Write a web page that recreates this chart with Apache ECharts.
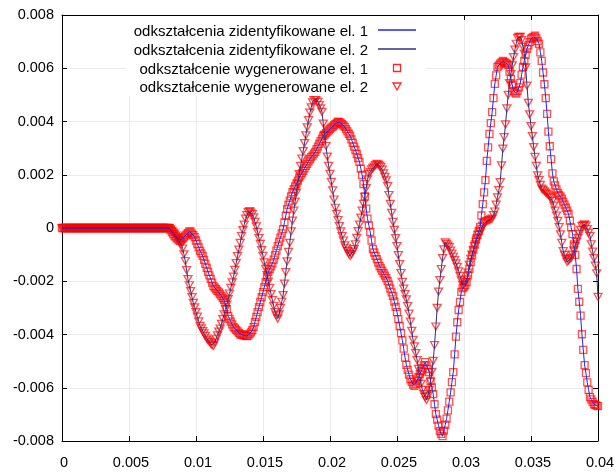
<!DOCTYPE html>
<html>
<head>
<meta charset="utf-8">
<script src="https://cdn.jsdelivr.net/npm/echarts@6/dist/echarts.min.js"></script>
<style>
html, body { margin: 0; padding: 0; background: #fff; }
#main { width: 616px; height: 472px; }
</style>
</head>
<body>
<div id="main"></div>
<script>
// sampling of the strain records: t = i * T_STEP, from 0 to 0.04
var T_STEP = 0.0001;

// strain, element 1 (in units of 1e-3)
var el1 = [
    0, 0, 0, 0, 0, 0, 0, 0, 0, 0,
    0, 0, 0, 0, 0, 0, 0, 0, 0, 0,
    0, 0, 0, 0, 0, 0, 0, 0, 0, 0,
    0, 0, 0, 0, 0, 0, 0, 0, 0, 0,
    0, 0, 0, 0, 0, 0, 0, 0, 0, 0,
    0, 0, 0, 0, 0, 0, 0, 0, 0, 0,
    0, 0, 0, 0, 0, 0, 0, 0, 0, 0,
    0, 0, 0, 0, 0, 0, 0, 0, 0, 0,
    0, -0.08, -0.15, -0.23, -0.30, -0.35, -0.40, -0.45, -0.49, -0.44,
    -0.39, -0.34, -0.29, -0.24, -0.19, -0.13, -0.14, -0.21, -0.27, -0.34,
    -0.47, -0.60, -0.73, -0.86, -0.95, -1.05, -1.20, -1.35, -1.50, -1.65,
    -1.78, -1.91, -2.05, -2.18, -2.24, -2.30, -2.36, -2.42, -2.48, -2.56,
    -2.63, -2.71, -2.78, -3.05, -3.31, -3.41, -3.52, -3.62, -3.72, -3.77,
    -3.83, -3.88, -3.94, -3.99, -4.00, -4.02, -4.03, -4.05, -4.06, -4.04,
    -3.98, -3.92, -3.84, -3.71, -3.53, -3.34, -3.16, -2.97, -2.78, -2.60,
    -2.41, -2.22, -2.03, -1.84, -1.65, -1.54, -1.44, -1.33, -1.19, -1.02,
    -0.85, -0.68, -0.52, -0.36, -0.20, -0.04, 0.21, 0.46, 0.71, 0.87,
    1.03, 1.19, 1.35, 1.46, 1.56, 1.67, 1.78, 1.89, 1.98, 2.06,
    2.15, 2.24, 2.33, 2.41, 2.50, 2.59, 2.66, 2.72, 2.79, 2.86,
    2.96, 3.06, 3.16, 3.26, 3.36, 3.46, 3.51, 3.56, 3.62, 3.67,
    3.72, 3.77, 3.81, 3.86, 3.90, 3.95, 3.99, 3.98, 3.95, 3.90,
    3.85, 3.80, 3.71, 3.63, 3.54, 3.46, 3.33, 3.20, 3.06, 2.93,
    2.78, 2.63, 2.48, 2.23, 1.99, 1.65, 1.19, 0.73, 0.35, 0.10,
    -0.15, -0.47, -0.79, -0.92, -1.05, -1.17, -1.30, -1.43, -1.52, -1.61,
    -1.70, -1.79, -1.88, -1.99, -2.13, -2.28, -2.42, -2.56, -2.76, -2.96,
    -3.16, -3.42, -3.68, -3.95, -4.22, -4.53, -4.87, -5.14, -5.33, -5.51,
    -5.68, -5.78, -5.88, -5.93, -5.84, -5.73, -5.61, -5.49, -5.38, -5.27,
    -5.15, -5.04, -5.16, -5.29, -5.41, -5.74, -5.99, -6.24, -6.62, -6.99,
    -7.20, -7.42, -7.63, -7.73, -7.82, -7.61, -7.39, -7.16, -6.85, -6.52,
    -6.17, -5.79, -5.41, -4.75, -4.08, -3.54, -3.08, -2.78, -2.40, -2.26,
    -2.21, -2.14, -2.03, -1.78, -1.53, -1.28, -1.03, -0.81, -0.62, -0.43,
    -0.26, -0.11, 0.04, 0.47, 0.90, 1.34, 1.80, 2.52, 3.03, 3.53,
    3.94, 4.35, 4.88, 5.41, 5.73, 6.05, 6.11, 6.17, 6.22, 6.28,
    6.24, 6.20, 6.17, 6.13, 5.87, 5.60, 5.38, 5.15, 5.09, 5.05,
    5.15, 5.28, 5.44, 5.76, 6.05, 6.28, 6.50, 6.73, 6.86, 6.98,
    7.11, 7.15, 7.18, 7.22, 7.12, 7.02, 6.92, 6.60, 6.28, 5.84,
    5.40, 4.88, 4.29, 3.62, 3.07, 2.59, 2.05, 1.75, 1.60, 1.45,
    1.32, 1.24, 1.19, 1.10, 0.99, 0.88, 0.76, 0.65, 0.53, 0.28,
    0.02, -0.23, -0.62, -1.01, -1.54, -2.29, -2.77, -3.29, -3.99, -4.58,
    -5.15, -5.45, -5.80, -6.08, -6.35, -6.44, -6.53, -6.62, -6.64, -6.67,
    -6.69
];

// strain, element 2 (in units of 1e-3)
var el2 = [
    0, 0, 0, 0, 0, 0, 0, 0, 0, 0,
    0, 0, 0, 0, 0, 0, 0, 0, 0, 0,
    0, 0, 0, 0, 0, 0, 0, 0, 0, 0,
    0, 0, 0, 0, 0, 0, 0, 0, 0, 0,
    0, 0, 0, 0, 0, 0, 0, 0, 0, 0,
    0, 0, 0, 0, 0, 0, 0, 0, 0, 0,
    0, 0, 0, 0, 0, 0, 0, 0, 0, 0,
    0, 0, 0, 0, 0, 0, 0, 0, 0, 0,
    0, -0.05, -0.11, -0.16, -0.21, -0.29, -0.37, -0.46, -0.54, -0.63,
    -0.77, -0.99, -1.24, -1.58, -1.92, -2.15, -2.37, -2.60, -2.81, -2.98,
    -3.16, -3.33, -3.51, -3.68, -3.77, -3.87, -3.96, -4.05, -4.15, -4.22,
    -4.28, -4.34, -4.40, -4.43, -4.30, -4.16, -4.03, -3.89, -3.78, -3.60,
    -3.42, -3.24, -3.06, -2.88, -2.67, -2.46, -2.25, -2.04, -1.83, -1.57,
    -1.32, -1.06, -0.81, -0.56, -0.30, -0.08, 0.13, 0.35, 0.48, 0.60,
    0.63, 0.58, 0.52, 0.40, 0.23, 0.06, -0.15, -0.38, -0.60, -0.83,
    -1.05, -1.29, -1.53, -1.77, -2.01, -2.25, -2.48, -2.71, -2.93, -3.16,
    -3.28, -3.40, -3.24, -3.00, -2.77, -2.52, -2.09, -1.66, -1.25, -0.90,
    -0.56, -0.13, 0.28, 0.65, 0.99, 1.33, 1.67, 2.02, 2.33, 2.61,
    2.89, 3.19, 3.48, 3.78, 4.05, 4.33, 4.53, 4.72, 4.80, 4.83,
    4.85, 4.74, 4.62, 4.49, 4.36, 3.92, 3.48, 3.08, 2.68, 2.33,
    2.03, 1.73, 1.41, 1.07, 0.76, 0.53, 0.30, 0.07, -0.13, -0.30,
    -0.47, -0.65, -0.76, -0.86, -0.96, -1.05, -0.99, -0.89, -0.79, -0.61,
    -0.37, -0.12, 0.13, 0.39, 0.65, 0.91, 1.17, 1.50, 1.83, 2.03,
    2.11, 2.20, 2.26, 2.31, 2.36, 2.41, 2.38, 2.34, 2.30, 2.19,
    2.05, 1.92, 1.79, 1.57, 1.24, 0.91, 0.57, 0.23, -0.07, -0.38,
    -0.68, -1.02, -1.36, -1.69, -2.02, -2.28, -2.48, -2.68, -2.93, -3.22,
    -3.52, -3.86, -4.20, -4.45, -4.70, -4.96, -5.29, -5.61, -5.85, -6.08,
    -6.24, -6.35, -6.46, -6.31, -6.09, -5.78, -5.40, -4.99, -4.40, -3.70,
    -3.00, -2.39, -1.96, -1.54, -1.13, -0.80, -0.54, -0.60, -0.66, -0.72,
    -0.85, -0.96, -1.08, -1.21, -1.33, -1.46, -1.63, -1.80, -1.97, -2.14,
    -2.13, -2.03, -1.93, -1.68, -1.38, -1.16, -1.00, -0.84, -0.68, -0.52,
    -0.38, -0.26, -0.15, -0.03, 0.09, 0.16, 0.21, 0.26, 0.28, 0.30,
    0.32, 0.35, 0.48, 0.62, 0.88, 1.15, 1.42, 1.72, 2.35, 2.98,
    3.41, 3.89, 4.49, 5.00, 5.44, 5.78, 6.11, 6.42, 6.70, 6.92,
    7.14, 7.18, 7.18, 7.06, 6.80, 6.55, 6.03, 5.35, 4.70, 4.27,
    3.83, 3.45, 3.04, 2.67, 2.33, 1.98, 1.80, 1.62, 1.48, 1.43,
    1.38, 1.33, 1.28, 1.23, 1.18, 1.13, 1.02, 0.84, 0.65, 0.47,
    0.27, 0.03, -0.24, -0.56, -0.87, -1.01, -1.15, -1.27, -1.22, -1.17,
    -1.12, -1.00, -0.84, -0.68, -0.52, -0.37, -0.22, -0.07, 0.07, 0.11,
    0.14, 0.09, -0.04, -0.17, -0.30, -0.61, -0.89, -1.13, -1.41, -1.70,
    -2.59
];

var seriesNames = [
    'odkształcenia zidentyfikowane el. 1',
    'odkształcenia zidentyfikowane el. 2',
    'odkształcenie wygenerowane el. 1',
    'odkształcenie wygenerowane el. 2'
];

var LINE1 = '#2323f8';
var LINE2 = '#2e2e86';
var MARK = 'rgba(255,0,0,0.85)';
var FONT = 'Liberation Sans, Arial, sans-serif';

function toPoints(arr) {
    return arr.map(function (v, i) {
        return [i * T_STEP, v / 1000];
    });
}

function fmt(v) {
    return String(+v.toFixed(4));
}

var myChart = echarts.init(document.getElementById('main'));

var frameLine = { onZero: false, lineStyle: { color: '#000', width: 1 } };
var frameTick = { inside: true, length: 5, lineStyle: { color: '#000' } };

var option = {
    animation: false,
    backgroundColor: '#fff',
    grid: { left: 62, right: 18, top: 15, bottom: 31, outerBoundsMode: 'none' },
    xAxis: [
        {
            type: 'value', min: 0, max: 0.04, interval: 0.005, position: 'bottom',
            axisLine: frameLine,
            axisTick: frameTick,
            axisLabel: { color: '#000', fontSize: 14.5, fontFamily: FONT, margin: 14, padding: [0, 0, 0, 4], formatter: fmt },
            splitLine: { show: true, lineStyle: { color: '#ebebeb', width: 1 } },
        },
        {
            type: 'value', min: 0, max: 0.04, interval: 0.005, position: 'top',
            axisLine: frameLine,
            axisTick: frameTick,
            axisLabel: { show: false },
            splitLine: { show: false },
        },
    ],
    yAxis: [
        {
            type: 'value', min: -0.008, max: 0.008, interval: 0.002, position: 'left',
            axisLine: frameLine,
            axisTick: frameTick,
            axisLabel: { color: '#000', fontSize: 14.5, fontFamily: FONT, margin: 8, padding: [6, 0, 0, 0], formatter: fmt },
            splitLine: { show: true, lineStyle: { color: '#ebebeb', width: 1 } },
        },
        {
            type: 'value', min: -0.008, max: 0.008, interval: 0.002, position: 'right',
            axisLine: frameLine,
            axisTick: frameTick,
            axisLabel: { show: false },
            splitLine: { show: false },
        },
    ],
    series: [
        {
            name: seriesNames[2], type: 'scatter', data: toPoints(el1),
            symbol: 'rect', symbolSize: 7, z: 2,
            itemStyle: { color: 'rgba(0,0,0,0)', borderColor: MARK, borderWidth: 1.3 },
        },
        {
            name: seriesNames[3], type: 'scatter', data: toPoints(el2),
            symbol: 'path://M0,0L10,0L5,9Z', symbolSize: [8, 7], z: 2,
            itemStyle: { color: 'rgba(0,0,0,0)', borderColor: MARK, borderWidth: 1.3 },
        },
        {
            name: seriesNames[0], type: 'line', data: toPoints(el1),
            symbol: 'none', z: 3,
            lineStyle: { color: LINE1, width: 1 },
        },
        {
            name: seriesNames[1], type: 'line', data: toPoints(el2),
            symbol: 'none', z: 3,
            lineStyle: { color: LINE2, width: 1 },
        },
    ],
    graphic: [
        { type: 'rect', z: 5, shape: { x: 126, y: 16, width: 300, height: 80 }, style: { fill: '#fff' } },
        { type: 'text', z: 6, x: 368, y: 32, style: { text: seriesNames[0], align: 'right', verticalAlign: 'middle', fontSize: 15, fontFamily: FONT, fill: '#000' } },
        { type: 'text', z: 6, x: 368, y: 51, style: { text: seriesNames[1], align: 'right', verticalAlign: 'middle', fontSize: 15, fontFamily: FONT, fill: '#000' } },
        { type: 'text', z: 6, x: 368, y: 70, style: { text: seriesNames[2], align: 'right', verticalAlign: 'middle', fontSize: 15, fontFamily: FONT, fill: '#000' } },
        { type: 'text', z: 6, x: 368, y: 88, style: { text: seriesNames[3], align: 'right', verticalAlign: 'middle', fontSize: 15, fontFamily: FONT, fill: '#000' } },
        { type: 'line', z: 6, shape: { x1: 378, y1: 30, x2: 416, y2: 30 }, style: { stroke: LINE1, lineWidth: 1.5 } },
        { type: 'line', z: 6, shape: { x1: 378, y1: 49, x2: 416, y2: 49 }, style: { stroke: LINE2, lineWidth: 1.5 } },
        { type: 'rect', z: 6, shape: { x: 393.5, y: 64.5, width: 7, height: 7 }, style: { fill: 'none', stroke: MARK, lineWidth: 1.3 } },
        { type: 'polygon', z: 6, shape: { points: [[393, 83], [401, 83], [397, 90]] }, style: { fill: 'none', stroke: MARK, lineWidth: 1.3 } },
    ],
};

myChart.setOption(option);
</script>
</body>
</html>
